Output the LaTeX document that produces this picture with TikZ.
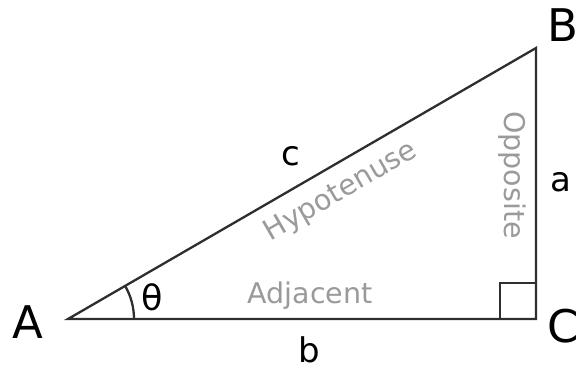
\documentclass[tikz,border=0pt]{standalone}
\usepackage{fontspec}
\setmainfont{DejaVu Sans}
\definecolor{edgegray}{HTML}{2E2E2E}
\definecolor{namegray}{HTML}{9A9A9A}
\begin{document}
\begin{tikzpicture}[x=1pt,y=-1pt,
  side/.style={draw=edgegray,line width=2.3pt},
  vertexlabel/.style={font=\fontsize{45}{50}\selectfont,inner sep=0pt},
  sidelabel/.style={font=\fontsize{34}{40}\selectfont,inner sep=0pt},
  sidename/.style={font=\fontsize{28.5}{32}\selectfont,text=namegray,inner sep=0pt}]
  \useasboundingbox (0,0) rectangle (576,369);
  \coordinate (A) at (68,319);
  \coordinate (C) at (536,319);
  \coordinate (B) at (536,48);
  \draw[side,line join=miter] (A) -- (C) -- (B) -- cycle;
  % right angle and angle mark
  \draw[side] (500,319) -- (500,283) -- (536,283);
  \draw[side] (A) ++(66,0) arc[start angle=0,end angle=-30.07,radius=66];
  \node[vertexlabel] (labA) at (28,322) {A};
  \node[vertexlabel] (labB) at (563,25) {B};
  \node[vertexlabel] (labC) at (563,326) {C};
  \node[sidelabel] (laba) at (561,182) {a};
  \node[sidelabel] (labb) at (309,350) {b};
  \node[sidelabel] (labc) at (291,156) {c};
  \node[font=\fontsize{35}{40}\selectfont,inner sep=0pt] (theta) at (152,297) {θ};
  \node[sidename,rotate=30.07] (hyp) at (341,192) {Hypotenuse};
  \node[sidename,rotate=-90] (opp) at (512,175) {Opposite};
  \node[sidename] (adj) at (310,296) {Adjacent};
\end{tikzpicture}
\end{document}
